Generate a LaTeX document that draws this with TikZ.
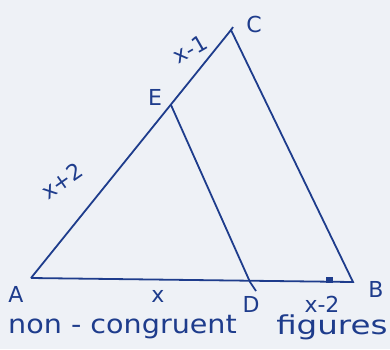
\documentclass[tikz,border=0pt]{standalone}
\usepackage{fontspec}
\setmainfont{DejaVu Sans}
\definecolor{ink}{HTML}{1E3C8C}
\definecolor{paper}{HTML}{EEF1F6}
\begin{document}
\begin{tikzpicture}[x=1pt,y=-1pt,
  seg/.style={draw=ink,line width=1.8pt},
  lbl/.style={text=ink,font=\fontsize{22}{23}\selectfont,inner sep=0pt},
  captext/.style={text=ink,font=\fontsize{26}{27}\selectfont,inner sep=0pt,anchor=west}]
\fill[paper] (0,0) rectangle (390,349);
\useasboundingbox (0,0) rectangle (390,349);
\coordinate (A) at (31,278);
\coordinate (B) at (353,282);
\coordinate (C) at (231,30);
\coordinate (E) at (171,105);
\coordinate (D) at (250,282);
\coordinate (Dx) at (256,291);
\coordinate (Ct) at (233,27);
\draw[seg] (A) -- (B) -- (C) -- (A);
\draw[seg] (E) -- (D) -- (Dx);
\draw[seg] (C) -- (Ct);
\fill[ink] (326,277) rectangle (333,283);
\node[lbl] (lC) at (254,24) {C};
\node[lbl] (lE) at (155,97) {E};
\node[lbl] (lA) at (16,294) {A};
\node[lbl] (lB) at (376,289) {B};
\node[lbl] (lD) at (251,304) {D};
\node[lbl,rotate=30] (l1) at (190,49) {x-1};
\node[lbl,rotate=35] (l2) at (62,181) {x+2};
\node[lbl] (lx) at (158,296) {x};
\node[lbl] (l3) at (322,304) {x-2};
\node[captext,xscale=1.1] (cap1) at (8,327) {non - congruent};
\node[captext,xscale=1.25] (cap2) at (276,327) {figures};
\end{tikzpicture}
\end{document}
